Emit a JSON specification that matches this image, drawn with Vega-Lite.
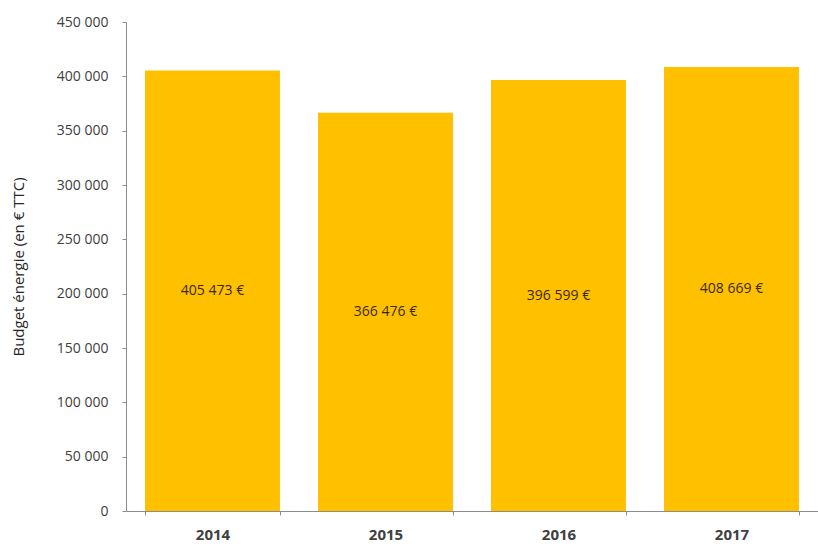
{
  "$schema": "https://vega.github.io/schema/vega-lite/v6.json",
  "autosize": "none",
  "padding": {"left": 126, "top": 22, "right": 0, "bottom": 37},
  "width": 692,
  "height": 489,
  "background": "white",
  "config": {
    "locale": {"number": {"decimal": ",", "thousands": " ", "grouping": [3], "currency": ["", " €"]}},
    "view": {"stroke": null},
    "font": "Open Sans"
  },
  "data": {"values": [
    {"annee": "2014", "budget": 405473},
    {"annee": "2015", "budget": 366476},
    {"annee": "2016", "budget": 396599},
    {"annee": "2017", "budget": 408669}
  ]},
  "encoding": {
    "x": {"field": "annee", "type": "nominal", "sort": null,
      "scale": {"paddingInner": 0.22, "paddingOuter": 0.11},
      "axis": {"title": null, "labelAngle": 0, "labelFontWeight": "bold", "labelFontSize": 15, "labelColor": "#404040", "labelPadding": 12,
        "domainColor": "#8c8c8c", "tickColor": "#8c8c8c", "tickSize": 4, "tickBand": "extent"}}
  },
  "layer": [
    {
      "mark": {"type": "bar", "color": "#FFC000"},
      "encoding": {
        "y": {"field": "budget", "type": "quantitative",
          "scale": {"domain": [0, 450000]},
          "axis": {"title": "Budget énergie (en € TTC)", "titleFontSize": 15, "titleFontWeight": "normal", "titleColor": "#262626", "titlePadding": 30,
            "values": [0, 50000, 100000, 150000, 200000, 250000, 300000, 350000, 400000, 450000],
            "format": ",d", "labelFontSize": 14, "labelColor": "#404040", "labelPadding": 14,
            "grid": false, "domainColor": "#8c8c8c", "tickColor": "#8c8c8c", "tickSize": 4}}
      }
    },
    {
      "mark": {"type": "text", "fontSize": 14, "color": "#3a2a00", "baseline": "middle"},
      "encoding": {
        "y": {"field": "budget", "type": "quantitative", "scale": {"domain": [0, 900000]}, "axis": null},
        "text": {"field": "budget", "type": "quantitative", "format": "$,d"}
      }
    }
  ],
  "resolve": {"scale": {"y": "independent"}}
}
